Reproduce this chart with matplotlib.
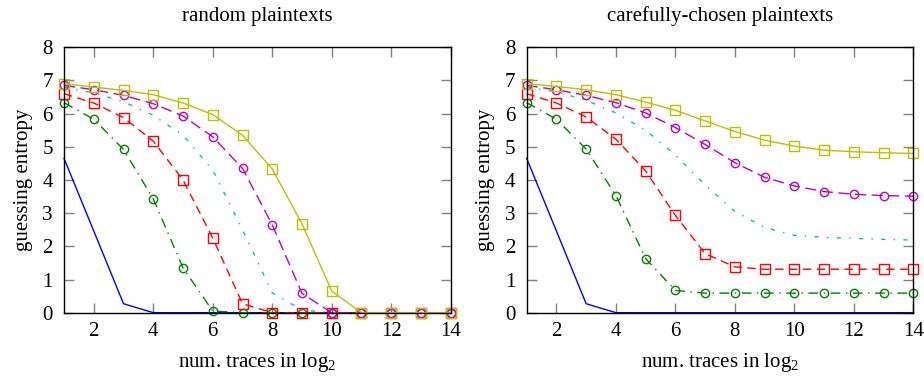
import numpy as np
import matplotlib
matplotlib.use("Agg")
import matplotlib.pyplot as plt

plt.rcParams['font.family'] = ['Liberation Serif', 'DejaVu Serif']
plt.rcParams['mathtext.fontset'] = 'custom'
plt.rcParams['mathtext.rm'] = 'Liberation Serif'

# x axis: number of traces (log2)
n_traces = np.arange(1, 15)

# random plaintexts
rnd_blue = [4.65, 2.46, 0.27, 0, 0, 0, 0, 0, 0, 0, 0, 0, 0, 0]
rnd_green = [6.33, 5.83, 4.92, 3.43, 1.35, 0.05, 0, 0, 0, 0, 0, 0, 0, 0]
rnd_red = [6.6, 6.32, 5.88, 5.17, 4.0, 2.25, 0.27, 0, 0, 0, 0, 0, 0, 0]
rnd_cyan = [6.8, 6.62, 6.36, 5.95, 5.35, 4.3, 2.5, 0.6, 0.08, 0, 0, 0, 0, 0]
rnd_magenta = [6.85, 6.72, 6.55, 6.3, 5.93, 5.3, 4.35, 2.65, 0.58, 0, 0, 0, 0, 0]
rnd_yellow = [6.9, 6.8, 6.7, 6.57, 6.32, 5.97, 5.35, 4.33, 2.68, 0.65, 0, 0, 0, 0]

# carefully-chosen plaintexts
cc_blue = [4.65, 2.46, 0.27, 0, 0, 0, 0, 0, 0, 0, 0, 0, 0, 0]
cc_green = [6.33, 5.83, 4.93, 3.53, 1.63, 0.67, 0.59, 0.59, 0.59, 0.59, 0.59, 0.59, 0.59, 0.59]
cc_red = [6.6, 6.32, 5.9, 5.23, 4.27, 2.93, 1.78, 1.38, 1.31, 1.31, 1.31, 1.31, 1.31, 1.31]
cc_cyan = [6.8, 6.66, 6.4, 6.02, 5.5, 4.75, 3.85, 3.05, 2.57, 2.33, 2.27, 2.24, 2.21, 2.19]
cc_magenta = [6.85, 6.72, 6.55, 6.33, 6.02, 5.58, 5.07, 4.52, 4.08, 3.82, 3.65, 3.57, 3.53, 3.51]
cc_yellow = [6.9, 6.82, 6.72, 6.57, 6.35, 6.1, 5.78, 5.46, 5.2, 5.02, 4.9, 4.85, 4.82, 4.8]

titles = ['random plaintexts', 'carefully-chosen plaintexts']
series = [
    [rnd_blue, rnd_green, rnd_red, rnd_cyan, rnd_magenta, rnd_yellow],
    [cc_blue, cc_green, cc_red, cc_cyan, cc_magenta, cc_yellow],
]

styles = [
    dict(color='b', ls='-', marker=None),
    dict(color='g', ls=(0, (7, 4, 1, 4)), marker='o'),
    dict(color='r', ls=(0, (6, 4)), marker='s'),
    dict(color='c', ls=(0, (3, 6, 1, 6)), marker=None),
    dict(color='m', ls=(0, (8, 4)), marker='o'),
    dict(color='y', ls='-', marker='s'),
]

fs = 15
fig = plt.figure(figsize=(9.24, 3.77), dpi=100)
lefts = [0.0693, 0.570]
for k in range(2):
    ax = fig.add_axes([lefts[k], 0.1706, 0.4185, 0.704])
    for vals, st in zip(series[k], styles):
        ms = 7 if st['marker'] == 's' else 6
        ax.plot(n_traces, vals, color=st['color'], linestyle=st['ls'],
                marker=st['marker'], markersize=ms, markerfacecolor='none',
                markeredgewidth=1.0, linewidth=1.0, clip_on=False)
    ax.set_xlim(1, 14)
    ax.set_ylim(0, 8)
    ax.set_xticks([2, 4, 6, 8, 10, 12, 14])
    ax.set_yticks(range(0, 9))
    ax.tick_params(direction='in', length=7, width=1, color='gray',
                   top=True, right=True, labelsize=fs)
    ax.tick_params(axis='y', pad=8)
    ax.tick_params(axis='x', pad=7)
    for sp in ax.spines.values():
        sp.set_linewidth(1.0)
    ax.set_title(titles[k], fontsize=fs, pad=19)
    ax.set_xlabel(r'num. traces in log$_\mathrm{2}$', fontsize=fs, labelpad=7)
    ax.set_ylabel('guessing entropy', fontsize=fs, labelpad=7)

fig.savefig('out.png', dpi=100)
